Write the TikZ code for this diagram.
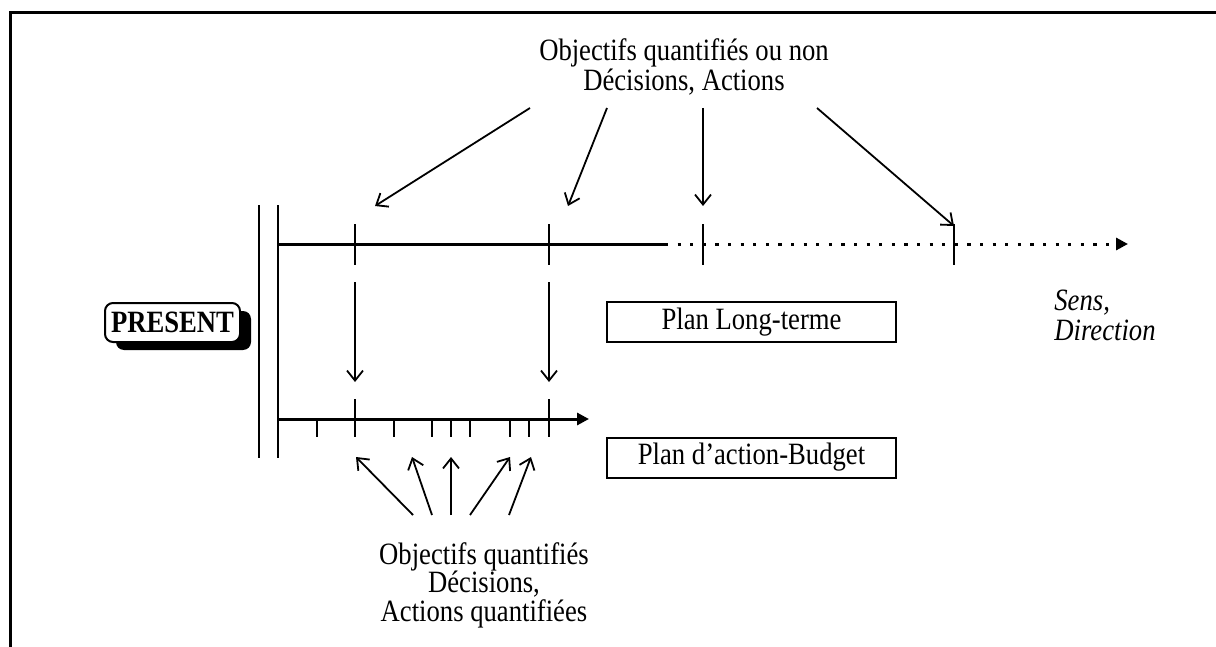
\documentclass[tikz,border=0pt]{standalone}
\usepackage{fontspec}
\setmainfont{Liberation Serif}[FakeStretch=0.86]
\usetikzlibrary{arrows.meta,shadows}

\begin{document}
\begin{tikzpicture}[x=0.5pt,y=-0.5pt,
  lbl/.style={font=\fontsize{15.5}{15}\selectfont, inner sep=0pt, align=center},
  planbox/.style={draw, line width=1pt, minimum width=144.5pt, minimum height=20pt,
    inner sep=0pt, font=\fontsize{15.5}{15}\selectfont},
  axisline/.style={line width=1.5pt},
  tickmark/.style={line width=1pt},
  ptr/.style={line width=0.9pt, -{Straight Barb[length=5pt,width=8pt]}},
  axtip/.style={-{Triangle[length=6pt,width=6pt]}},
]
\useasboundingbox (0,0) rectangle (1216,647);
\fill[white] (0,0) rectangle (1216,647);

% outer frame (left and top edges)
\draw[line width=1.5pt] (10,647) -- (10,13) -- (1216,13);

% texts
\node[lbl, anchor=north] (topobj) at (684,38)
  {Objectifs quantifiés ou non\\Décisions, Actions};
\node[lbl, anchor=north, font=\fontsize{15.5}{14.2}\selectfont] (botobj) at (484,542)
  {Objectifs quantifiés\\Décisions,\\Actions quantifiées};
\node[lbl, anchor=north west, align=left, font=\fontsize{15.5}{15}\selectfont\itshape] (sens) at (1054,290)
  {Sens,\\Direction};

% boxes
\node[planbox] (plt) at (751.5,322) {Plan Long-terme};
\node[planbox] (pab) at (751.5,457.5) {Plan d’action-Budget};
\node[draw, line width=1pt, fill=white, rounded corners=4pt,
  minimum width=67.5pt, minimum height=19.5pt, inner sep=0pt,
  font=\fontsize{15.5}{15}\selectfont\bfseries,
  drop shadow={shadow xshift=5.5pt, shadow yshift=-4pt, fill=black, opacity=1}]
  (present) at (172.5,322.5) {PRESENT};

% present: double vertical bar
\draw[line width=1.2pt] (259,205) -- (259,458);
\draw[line width=1.2pt] (278,205) -- (278,458);

% long-term axis
\coordinate (L0) at (278,244);
\coordinate (Ld) at (665,244);
\coordinate (Lend) at (1128,244);
\draw[axisline] (L0) -- (Ld);
\draw[axisline, dash pattern=on 1.6pt off 4.7pt, axtip] (Ld) -- (Lend);
\foreach \x in {355,549,703,954}
  \draw[tickmark] (\x,224) -- (\x,265);

% short-term axis
\coordinate (S0) at (278,419);
\coordinate (Send) at (589,419);
\draw[axisline, axtip] (S0) -- (Send);
\foreach \x in {355,549}
  \draw[tickmark] (\x,399) -- (\x,437);
\foreach \x in {317,394,432,451,470,510,529}
  \draw[tickmark] (\x,419) -- (\x,437);

% arrows from the long-term objectives
\coordinate (t1s) at (530,108); \coordinate (t1e) at (375,206);
\coordinate (t2s) at (607,108); \coordinate (t2e) at (568,206);
\coordinate (t3s) at (703,108); \coordinate (t3e) at (703,206);
\coordinate (t4s) at (817,108); \coordinate (t4e) at (954,226);
\foreach \i in {1,...,4}
  \draw[ptr] (t\i s) -- (t\i e);

% from long-term to short-term
\coordinate (d1s) at (355,282); \coordinate (d1e) at (355,382);
\coordinate (d2s) at (549,282); \coordinate (d2e) at (549,382);
\draw[ptr] (d1s) -- (d1e);
\draw[ptr] (d2s) -- (d2e);

% arrows from the quantified objectives
\coordinate (u1s) at (413,515); \coordinate (u1e) at (356,457);
\coordinate (u2s) at (432,515); \coordinate (u2e) at (412,457);
\coordinate (u3s) at (451,515); \coordinate (u3e) at (451,457);
\coordinate (u4s) at (470,515); \coordinate (u4e) at (510,457);
\coordinate (u5s) at (509,515); \coordinate (u5e) at (531,457);
\foreach \i in {1,...,5}
  \draw[ptr] (u\i s) -- (u\i e);
\end{tikzpicture}
\end{document}
